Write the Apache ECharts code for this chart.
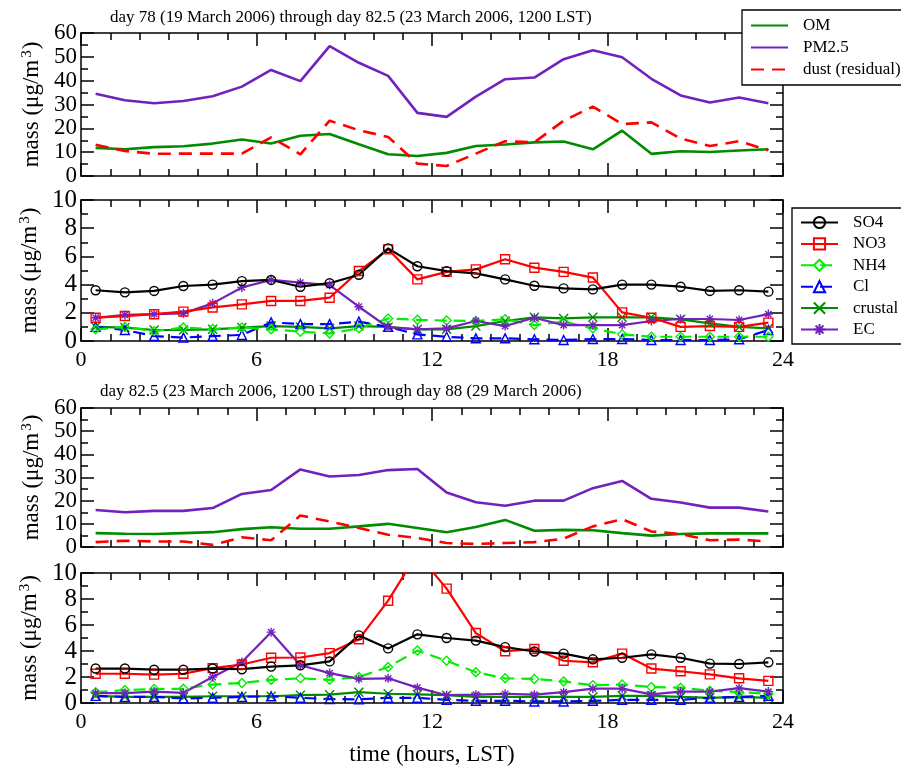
<!DOCTYPE html>
<html>
<head>
<meta charset="utf-8">
<script src="https://cdn.jsdelivr.net/npm/echarts@6/dist/echarts.min.js"></script>
<style>html,body{margin:0;padding:0;background:#fff;}#c{width:901px;height:767px;}</style>
</head>
<body>
<div id="c"></div>
<script>
// ---------------- DATA ----------------
const hours = [0.5,1.5,2.5,3.5,4.5,5.5,6.5,7.5,8.5,9.5,10.5,11.5,12.5,13.5,14.5,15.5,16.5,17.5,18.5,19.5,20.5,21.5,22.5,23.5];
const xTicks = [0, 6, 12, 18, 24];

const titleA = 'day 78 (19 March 2006) through day 82.5 (23 March 2006, 1200 LST)';
const titleB = 'day 82.5 (23 March 2006, 1200 LST) through day 88 (29 March 2006)';

// Period A (top two panels)
const omA   = [11.8,11.2,12.1,12.5,13.6,15.3,13.6,16.9,17.6,13.3,9.1,8.4,9.7,12.6,13.2,14.1,14.5,11.2,19.0,9.3,10.4,10.1,10.7,11.2];
const pm25A = [34.5,31.8,30.5,31.5,33.5,37.5,44.5,39.8,54.5,47.5,42.0,26.5,24.8,33.3,40.6,41.3,49.0,52.8,49.8,40.8,33.8,30.8,32.9,30.5];
const dustA = [13.1,10.5,9.3,9.4,9.4,9.4,16.2,9.1,23.2,19.2,16.4,5.2,4.2,9.4,14.6,14.1,23.2,29.1,21.8,22.5,15.7,12.6,14.6,10.8];

const so4A     = [3.6,3.45,3.55,3.9,4.0,4.25,4.33,3.85,4.1,4.7,6.57,5.3,4.95,4.8,4.37,3.92,3.73,3.66,4.0,4.0,3.85,3.55,3.6,3.5];
const no3A     = [1.65,1.77,1.9,2.08,2.38,2.6,2.84,2.84,3.07,4.96,6.5,4.37,4.9,5.08,5.8,5.2,4.9,4.5,2.03,1.65,1.0,1.06,1.0,1.3];
const nh4A     = [0.83,1.0,0.7,0.95,0.85,0.95,0.83,0.66,0.54,0.9,1.6,1.5,1.45,1.42,1.54,1.13,1.37,0.9,0.47,0.3,0.3,0.3,0.3,0.3];
const clA      = [1.0,0.78,0.35,0.24,0.35,0.43,1.32,1.2,1.2,1.37,1.0,0.47,0.3,0.19,0.19,0.12,0.07,0.14,0.14,0.07,0.07,0.07,0.12,0.78];
const crustalA = [1.0,0.95,0.78,0.78,0.83,0.95,1.06,1.0,0.9,1.06,1.0,0.83,0.83,1.06,1.42,1.68,1.6,1.68,1.68,1.68,1.54,1.25,1.0,0.9];
const ecA      = [1.65,1.85,1.9,1.96,2.67,3.8,4.33,4.14,3.97,2.43,0.97,0.83,0.9,1.42,1.06,1.65,1.13,1.13,1.13,1.42,1.56,1.56,1.49,1.91];

// Period B (bottom two panels)
const omB   = [6.0,5.7,5.6,6.0,6.4,7.7,8.5,7.9,7.9,8.9,10.0,8.2,6.4,8.6,11.7,7.0,7.4,7.2,6.0,4.9,5.6,5.9,5.9,5.9];
const pm25B = [16.0,15.0,15.6,15.6,16.8,22.9,24.6,33.5,30.4,31.1,33.2,33.7,23.5,19.3,17.8,20.0,20.0,25.4,28.5,20.8,19.2,17.0,17.0,15.3];
const dustB = [2.1,2.7,2.4,2.4,0.9,4.2,2.9,13.6,11.0,8.2,5.3,3.9,1.7,1.3,1.7,2.1,3.6,8.9,12.0,6.7,5.6,2.9,3.2,2.4];

const so4B     = [2.65,2.65,2.56,2.56,2.65,2.6,2.8,2.9,3.2,5.2,4.2,5.28,5.0,4.8,4.3,3.96,3.8,3.36,3.48,3.74,3.48,3.03,3.0,3.13];
const no3B     = [2.25,2.25,2.18,2.25,2.68,2.96,3.48,3.5,3.84,4.9,7.87,11.5,8.8,5.38,3.98,4.15,3.25,3.13,3.8,2.65,2.44,2.2,1.9,1.7];
const nh4B     = [0.83,1.0,1.07,1.1,1.42,1.54,1.78,1.9,1.78,2.0,2.77,4.03,3.25,2.37,1.9,1.85,1.66,1.37,1.42,1.23,1.18,0.95,0.83,0.71];
const clB      = [0.55,0.47,0.47,0.35,0.4,0.47,0.52,0.4,0.3,0.28,0.4,0.4,0.24,0.17,0.17,0.12,0.12,0.17,0.24,0.24,0.24,0.4,0.47,0.55];
const crustalB = [0.55,0.47,0.47,0.47,0.52,0.52,0.52,0.6,0.64,0.83,0.71,0.66,0.6,0.47,0.47,0.47,0.47,0.47,0.55,0.55,0.47,0.4,0.47,0.4];
const ecB      = [0.76,0.76,0.88,0.78,2.0,3.15,5.45,2.9,2.3,1.85,1.9,1.18,0.6,0.64,0.71,0.64,0.83,1.1,1.1,0.66,0.88,0.88,1.14,0.88];

const bulkNames = ['OM', 'PM2.5', 'dust (residual)'];
const specNames = ['SO4', 'NO3', 'NH4', 'Cl', 'crustal', 'EC'];

// ---------------- STYLE ----------------
const FONT = '"Liberation Serif", "DejaVu Serif", serif';
const C = {
  om: '#008b00', pm: '#7221bc', dust: '#ff0000',
  so4: '#000000', no3: '#ff0000', nh4: '#00ee00', cl: '#0000ff', crustal: '#008b00', ec: '#7221bc'
};
const SYM = {
  circle: 'path://M10,5A5,5 0 1,1 0,5A5,5 0 1,1 10,5Z',
  rect: 'path://M0,0L10,0L10,10L0,10Z',
  diamond: 'path://M5,0L10,5L5,10L0,5Z',
  triangle: 'path://M5,0L10,9L0,9Z',
  x: 'path://M0,0L10,10M10,0L0,10',
  star: 'path://M5,0L5,10M0,5L10,5M1.5,1.5L8.5,8.5M8.5,1.5L1.5,8.5'
};

const LEFT = 81, W = 702;
const grids = [
  {left: LEFT, top: 33, width: W, height: 143},
  {left: LEFT, top: 200, width: W, height: 141},
  {left: LEFT, top: 408, width: W, height: 139},
  {left: LEFT, top: 573, width: W, height: 140}
];
const yMax = [60, 10, 60, 10];
const yInt = [10, 2, 10, 2];

const axisLine = {show: true, onZero: false, lineStyle: {color: '#000', width: 1.5}};
const tick = {show: true, inside: true, length: 13, lineStyle: {color: '#000', width: 1.5}};
const minor = (n) => ({show: true, splitNumber: n, length: 7, lineStyle: {color: '#000', width: 1.5}});

const xAxes = [], yAxes = [];
grids.forEach((g, i) => {
  const showX = (i === 1 || i === 3);
  xAxes.push({
    type: 'value', gridIndex: i, min: 0, max: 24, interval: 6, position: 'bottom',
    axisLine, axisTick: tick, minorTick: minor(6), splitLine: {show: false},
    axisLabel: {show: showX, fontFamily: FONT, fontSize: 22, color: '#000', margin: 8,
      formatter: v => xTicks.includes(v) ? String(v) : ''},
    name: i === 3 ? 'time (hours, LST)' : '', nameLocation: 'middle', nameGap: 40,
    nameTextStyle: {fontFamily: FONT, fontSize: 23, color: '#000'}
  });
  xAxes.push({
    type: 'value', gridIndex: i, min: 0, max: 24, interval: 6, position: 'top',
    axisLine, axisTick: tick, minorTick: minor(6), splitLine: {show: false},
    axisLabel: {show: false}
  });
  yAxes.push({
    type: 'value', gridIndex: i, min: 0, max: yMax[i], interval: yInt[i], position: 'left',
    axisLine, axisTick: tick, minorTick: minor(2), splitLine: {show: false},
    axisLabel: {fontFamily: FONT, fontSize: (i % 2 === 0) ? 23 : 25, color: '#000', margin: 4},
    name: 'mass (μg/m{s|3})', nameLocation: 'middle', nameGap: 35,
    nameTextStyle: {fontFamily: FONT, fontSize: 23, color: '#000',
      rich: {s: {fontFamily: FONT, fontSize: 15, color: '#000', verticalAlign: 'top', padding: [0, 1, 9, 2]}}}
  });
  yAxes.push({
    type: 'value', gridIndex: i, min: 0, max: yMax[i], interval: yInt[i], position: 'right',
    axisLine, axisTick: tick, minorTick: minor(2), splitLine: {show: false},
    axisLabel: {show: false}
  });
});

function pts(vals) { return hours.map((h, k) => [h, vals[k]]); }

function bulk(name, vals, color, gi, dashed) {
  return {
    name, type: 'line', xAxisIndex: gi * 2, yAxisIndex: gi * 2, data: pts(vals),
    showSymbol: false, symbol: 'none', clip: true, animation: false,
    itemStyle: {color},
    lineStyle: {color, width: 2.6, type: dashed ? [13, 8] : 'solid'},
    z: 3
  };
}
function spec(name, vals, color, gi, sym, dashed) {
  return {
    name, type: 'line', xAxisIndex: gi * 2, yAxisIndex: gi * 2, data: pts(vals),
    symbol: sym, symbolSize: 9, showSymbol: true, clip: true, animation: false,
    itemStyle: {color: 'rgba(255,255,255,0)', borderColor: color, borderWidth: 1.4},
    lineStyle: {color, width: 2.2, type: dashed ? [12, 7] : 'solid'},
    z: 3
  };
}

const series = [];
[[0, omA, pm25A, dustA], [2, omB, pm25B, dustB]].forEach(([gi, om, pm, du]) => {
  series.push(bulk(bulkNames[0], om, C.om, gi, false));
  series.push(bulk(bulkNames[1], pm, C.pm, gi, false));
  series.push(bulk(bulkNames[2], du, C.dust, gi, true));
});
[[1, so4A, no3A, nh4A, clA, crustalA, ecA], [3, so4B, no3B, nh4B, clB, crustalB, ecB]].forEach(([gi, s, n, a, c, cr, e]) => {
  series.push(spec(specNames[4], cr, C.crustal, gi, SYM.x, false));
  series.push(spec(specNames[3], c, C.cl, gi, SYM.triangle, true));
  series.push(spec(specNames[2], a, C.nh4, gi, SYM.diamond, true));
  series.push(spec(specNames[5], e, C.ec, gi, SYM.star, false));
  series.push(spec(specNames[1], n, C.no3, gi, SYM.rect, false));
  series.push(spec(specNames[0], s, C.so4, gi, SYM.circle, false));
});

const legendText = {fontFamily: FONT, fontSize: 17, color: '#000', padding: [0, 0, 0, 10]};
const option = {
  backgroundColor: '#fff',
  animation: false,
  title: [
    {text: titleA, left: 110, top: 9, padding: 0,
      textStyle: {fontFamily: FONT, fontSize: 17, fontWeight: 'normal', color: '#000'}},
    {text: titleB, left: 100, top: 383, padding: 0,
      textStyle: {fontFamily: FONT, fontSize: 17, fontWeight: 'normal', color: '#000'}}
  ],
  legend: [
    {data: bulkNames, orient: 'vertical', left: 742, top: 10, itemWidth: 37, itemHeight: 14, itemGap: 5,
      padding: [7, 20, 7, 8], borderColor: '#000', borderWidth: 1.3, backgroundColor: '#fff',
      itemStyle: {opacity: 0}, textStyle: legendText, selectedMode: false, z: 10},
    {data: specNames, orient: 'vertical', left: 792, top: 208, itemWidth: 37, itemHeight: 14, itemGap: 4.4,
      padding: [6, 20, 6, 8], borderColor: '#000', borderWidth: 1.3, backgroundColor: '#fff',
      textStyle: legendText, selectedMode: false, z: 10}
  ],
  grid: grids,
  xAxis: xAxes,
  yAxis: yAxes,
  series
};

const chart = echarts.init(document.getElementById('c'), null, {renderer: 'canvas'});
chart.setOption(option);
</script>
</body>
</html>
